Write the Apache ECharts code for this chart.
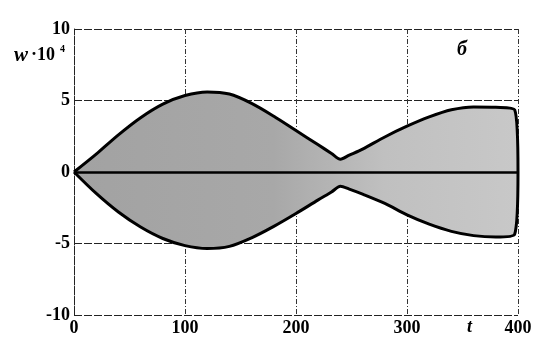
<!DOCTYPE html>
<html><head><meta charset="utf-8">
<script src="https://cdn.jsdelivr.net/npm/echarts@6/dist/echarts.min.js"></script>
<style>html,body{margin:0;padding:0;background:#fff}#c{width:535px;height:338px}</style>
</head><body><div id="c"></div>
<script>
const xTicks = [0, 100, 200, 300, 400];
const yTicks = [-10, -5, 0, 5, 10];
const tUpper = [0, 20, 40, 60, 80, 100, 120, 140, 160, 180, 200, 220, 232, 240, 248, 260, 280, 300, 320, 340, 360, 380, 397, 400];
const wUpper = [0, 1.25, 2.6, 3.8, 4.75, 5.35, 5.6, 5.45, 4.8, 3.9, 2.9, 1.9, 1.3, 0.9, 1.18, 1.6, 2.45, 3.2, 3.85, 4.35, 4.55, 4.52, 4.35, 0];
const tLower = [0, 20, 40, 60, 80, 100, 120, 140, 160, 180, 200, 220, 232, 240, 248, 260, 280, 300, 320, 340, 360, 380, 397, 400];
const wLower = [0, -1.5, -2.8, -3.85, -4.65, -5.15, -5.35, -5.2, -4.6, -3.8, -2.9, -1.95, -1.4, -1.0, -1.2, -1.55, -2.2, -3.0, -3.65, -4.15, -4.45, -4.55, -4.35, 0];

const chart = echarts.init(document.getElementById('c'));
const serif = '"Liberation Serif", "DejaVu Serif", serif';
const fillGrad = new echarts.graphic.LinearGradient(0, 0, 1, 0, [
  {offset: 0, color: '#a2a2a2'},
  {offset: 0.45, color: '#a8a8a8'},
  {offset: 0.7, color: '#c0c0c0'},
  {offset: 1, color: '#c8c8c8'}
]);
function pts(t, w) { return t.map((v, i) => [v, w[i]]); }
chart.setOption({
  animation: false,
  backgroundColor: '#fff',
  grid: {left: 74, right: 17, top: 29, bottom: 23},
  xAxis: {
    type: 'value', min: xTicks[0], max: xTicks[xTicks.length - 1], interval: 100,
    axisLine: {show: false}, axisTick: {show: false},
    axisLabel: {color: '#000', fontFamily: serif, fontSize: 18, fontWeight: 'bold', margin: 4},
    splitLine: {show: true, lineStyle: {color: '#333', type: [5, 2, 1, 2], width: 1}}
  },
  yAxis: {
    type: 'value', min: yTicks[0], max: yTicks[yTicks.length - 1], interval: 5,
    axisLine: {show: true, onZero: false, lineStyle: {color: '#222', width: 1, type: [8, 2]}},
    axisTick: {show: false},
    axisLabel: {color: '#000', fontFamily: serif, fontSize: 18, fontWeight: 'bold', margin: 4},
    splitLine: {show: true, lineStyle: {color: '#222', type: [8, 2], width: 1}}
  },
  series: [
    {type: 'line', data: pts(tUpper, wUpper), showSymbol: false, smooth: 0.3,
     lineStyle: {color: '#000', width: 3}, areaStyle: {color: fillGrad, opacity: 1, origin: 0},
     markLine: {silent: true, symbol: 'none', label: {show: false},
       lineStyle: {color: '#000', width: 2.5, type: 'solid'}, data: [{yAxis: 0}]}},
    {type: 'line', data: pts(tLower, wLower), showSymbol: false, smooth: 0.3,
     lineStyle: {color: '#000', width: 3}, areaStyle: {color: fillGrad, opacity: 1, origin: 0}}
  ],
  graphic: [
    {type: 'text', left: 14, top: 45, style: {text: 'w', font: 'italic bold 21px ' + serif, fill: '#000'}},
    {type: 'text', left: 31, top: 46, style: {text: '·10', font: 'bold 18px ' + serif, fill: '#000'}},
    {type: 'text', left: 60, top: 44, style: {text: '4', font: 'bold 10px ' + serif, fill: '#000'}},
    {type: 'text', left: 457, top: 40, style: {text: 'б', font: 'italic bold 20px ' + serif, fill: '#000'}},
    {type: 'text', left: 467, top: 318, style: {text: 't', font: 'italic bold 18px ' + serif, fill: '#000'}}
  ]
});
</script></body></html>
